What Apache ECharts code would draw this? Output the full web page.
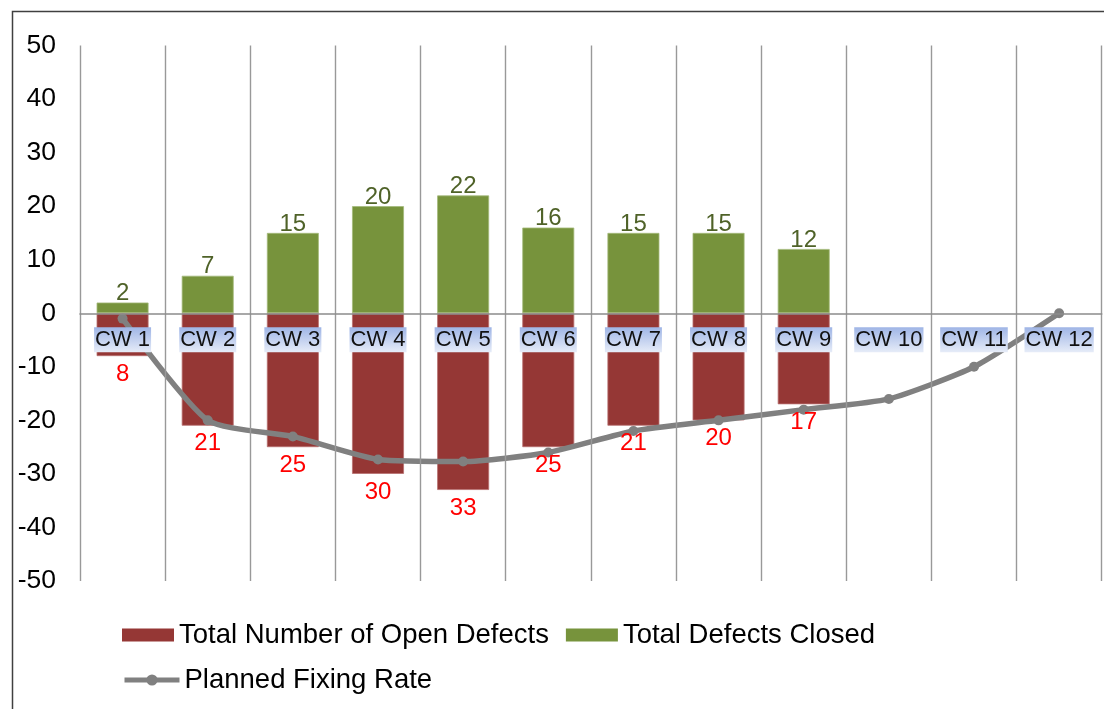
<!DOCTYPE html>
<html>
<head>
<meta charset="utf-8">
<title>Defect Tracking</title>
<script src="https://cdn.jsdelivr.net/npm/echarts@6/dist/echarts.min.js"></script>
<style>
  html, body { margin: 0; padding: 0; background: #ffffff; }
  #chart { width: 1104px; height: 709px; }
</style>
</head>
<body>
<div id="chart"></div>
<script>
// Weekly defect figures
const weeks = ['CW 1', 'CW 2', 'CW 3', 'CW 4', 'CW 5', 'CW 6', 'CW 7', 'CW 8', 'CW 9', 'CW 10', 'CW 11', 'CW 12'];
const openDefects = [8, 21, 25, 30, 33, 25, 21, 20, 17, null, null, null];
const closedDefects = [2, 7, 15, 20, 22, 16, 15, 15, 12, null, null, null];
const plannedFixingRate = [-1, -20, -23, -27.3, -27.7, -26, -22, -20, -18, -16, -10, 0];
const yTicks = { min: -50, max: 50, step: 10 };

const FONT = '"Liberation Sans", Arial, sans-serif';
const RED = '#953735';
const GREEN = '#77933C';
const GREY = '#808080';

// Open defects are plotted below the zero line
const openNegative = openDefects.map(v => (v == null ? null : -v));

const GRID_TOP = 45.5;
const GRID_BOTTOM = 128;
const CHART_H = 709;

const chart = echarts.init(document.getElementById('chart'), null, { renderer: 'canvas' });

// place the category axis (line + labels) on the zero value
const plotH = CHART_H - GRID_TOP - GRID_BOTTOM;
const zeroFromBottom = plotH * (0 - yTicks.min) / (yTicks.max - yTicks.min);

const absLabel = p => (p.value == null ? '' : String(Math.abs(p.value)));

chart.setOption({
  animation: false,
  backgroundColor: '#ffffff',
  textStyle: { fontFamily: FONT },
  graphic: [{
    type: 'rect',
    left: 10, top: 9,
    shape: { x: 0, y: 0, width: 1200, height: 800 },
    style: { fill: 'none', stroke: '#404040', lineWidth: 1.5 },
    silent: true,
    z: -1
  }],
  grid: { left: 80, right: 2.3, top: GRID_TOP, bottom: GRID_BOTTOM, containLabel: false },
  legend: [{
    left: 122, top: 620, padding: 0,
    itemWidth: 52, itemHeight: 13, itemGap: 17,
    icon: 'rect',
    itemStyle: { borderWidth: 0 },
    textStyle: { fontFamily: FONT, fontSize: 27.5, color: '#000000', lineHeight: 30 },
    data: ['Total Number of Open Defects', 'Total Defects Closed'],
    selectedMode: false
  }, {
    left: 122, top: 665, padding: 0,
    itemWidth: 55, itemHeight: 14,
    lineStyle: { width: 5, color: GREY },
    itemStyle: { color: GREY },
    textStyle: { fontFamily: FONT, fontSize: 27.5, color: '#000000', lineHeight: 30 },
    data: ['Planned Fixing Rate'],
    selectedMode: false
  }],
  xAxis: {
    type: 'category',
    data: weeks,
    boundaryGap: true,
    z: 10,
    offset: -zeroFromBottom,
    axisLine: { onZero: false, lineStyle: { color: '#8c8c8c', width: 1.6 } },
    axisTick: { show: false, interval: 0 },
    axisLabel: {
      interval: 0,
      hideOverlap: false,
      margin: 14,
      fontFamily: FONT,
      fontSize: 22,
      lineHeight: 22,
      color: '#111111',
      padding: [2, 1, 1, 1],
      backgroundColor: {
        type: 'linear', x: 0, y: 0, x2: 0, y2: 1,
        colorStops: [
          { offset: 0, color: '#9fb5e6' },
          { offset: 1, color: '#e6ecf8' }
        ]
      }
    },
    splitLine: { show: true, interval: 0, lineStyle: { color: '#999999', width: 1.4 } }
  },
  yAxis: {
    type: 'value',
    min: yTicks.min, max: yTicks.max, interval: yTicks.step,
    axisLine: { show: false },
    axisTick: { show: false },
    splitLine: { show: false },
    axisLabel: { margin: 24, fontFamily: FONT, fontSize: 26.5, color: '#000000' }
  },
  series: [{
    name: 'Total Number of Open Defects',
    type: 'bar',
    data: openNegative,
    barWidth: '61%',
    barGap: '-100%',
    itemStyle: { color: RED, borderColor: '#b87070', borderWidth: 0.8 },
    z: 2
  }, {
    name: 'Total Defects Closed',
    type: 'bar',
    data: closedDefects,
    barWidth: '61%',
    barGap: '-100%',
    itemStyle: { color: GREEN, borderColor: '#a3b97a', borderWidth: 0.8 },
    z: 2
  }, {
    name: 'Planned Fixing Rate',
    type: 'line',
    data: plannedFixingRate,
    smooth: 0.2,
    symbol: 'circle',
    symbolSize: 10,
    lineStyle: { color: GREY, width: 5.5 },
    itemStyle: { color: GREY },
    z: 3
  }, {
    // value labels, kept above the planned-rate line
    name: 'open-labels',
    type: 'bar',
    data: openNegative,
    barWidth: '61%',
    barGap: '-100%',
    itemStyle: { color: 'rgba(0,0,0,0)' },
    silent: true,
    z: 5,
    label: {
      show: true, position: 'bottom', distance: 6,
      formatter: absLabel,
      fontFamily: FONT, fontSize: 24, lineHeight: 24, color: '#FF0000'
    }
  }, {
    name: 'closed-labels',
    type: 'bar',
    data: closedDefects,
    barWidth: '61%',
    barGap: '-100%',
    itemStyle: { color: 'rgba(0,0,0,0)' },
    silent: true,
    z: 5,
    label: {
      show: true, position: 'top', distance: -3,
      formatter: absLabel,
      fontFamily: FONT, fontSize: 24, lineHeight: 24, color: '#4F6228'
    }
  }]
});
</script>
</body>
</html>
